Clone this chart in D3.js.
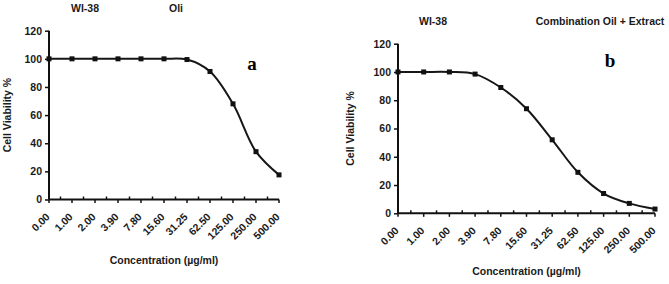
<!DOCTYPE html>
<meta charset="utf-8">
<html>
<head>
  <script src="https://d3js.org/d3.v7.min.js"></script>
  <style>
    body {
      margin: 0;
      background: #fff;
      font-family: "Liberation Sans", Arial, sans-serif;
    }
    text {
      fill: #1a1a1a;
      font-weight: bold;
    }
    .axis line, .axis path {
      stroke: #111;
    }
  </style>
</head>
<body>
  <script>
    // concentrations (ug/ml) on the x axis
    var concentrations = ["0.00", "1.00", "2.00", "3.90", "7.80", "15.60", "31.25", "62.50", "125.00", "250.00", "500.00"];
    // cell viability %
    var oilViability = [100, 100, 100, 100, 100, 100, 99.5, 91, 68, 34, 17.5];
    var comboViability = [100, 100, 100, 98.5, 89, 74, 52, 29, 14, 7, 3];
    var yTicks = [0, 20, 40, 60, 80, 100, 120];

    var svg = d3.select("body")
      .append("svg")
      .attr("width", 669)
      .attr("height", 284);

    var panels = [
      {
        values: oilViability, left: 49, top: 30.7, bottom: 199.5, width: 230,
        cell: "WI-38", cellX: 85, name: "Oli", nameX: 176, titleY: 12,
        letter: "a", letterX: 252, letterY: 70,
        yTitleX: 11, xTitleY: 264
      },
      {
        values: comboViability, left: 398, top: 43.7, bottom: 213.3, width: 257,
        cell: "WI-38", cellX: 433, name: "Combination Oil + Extract", nameX: 600, titleY: 25,
        letter: "b", letterX: 610, letterY: 67,
        yTitleX: 354, xTitleY: 275
      }
    ];

    panels.forEach(function (p) {
      var g = svg.append("g")
        .attr("transform", "translate(" + p.left + "," + p.top + ")");
      var h = p.bottom - p.top;

      var x = d3.scalePoint()
        .domain(concentrations)
        .range([0, p.width]);

      var y = d3.scaleLinear()
        .domain([0, 120])
        .range([h, 0]);

      // y axis
      var yAxis = g.append("g")
        .attr("class", "axis")
        .call(d3.axisLeft(y).tickValues(yTicks).tickSize(4).tickPadding(3));
      yAxis.select(".domain").attr("stroke-width", 2).attr("d", "M0,0V" + h);
      yAxis.selectAll("line").attr("stroke-width", 1.5);
      yAxis.selectAll("text").style("font-size", "10.5px");

      // x axis, ticks on the points go down, ticks in between go up
      var xAxis = g.append("g")
        .attr("class", "axis")
        .attr("transform", "translate(0," + h + ")");
      xAxis.append("line")
        .attr("x1", 0).attr("x2", p.width)
        .attr("stroke-width", 2);
      xAxis.selectAll(".tk")
        .data(concentrations)
        .enter().append("line")
        .attr("x1", function (d) { return x(d); })
        .attr("x2", function (d) { return x(d); })
        .attr("y1", 0).attr("y2", 3.5)
        .attr("stroke-width", 1.5);
      xAxis.selectAll(".mid")
        .data(concentrations.slice(1))
        .enter().append("line")
        .attr("x1", function (d, i) { return (x(d) + x(concentrations[i])) / 2; })
        .attr("x2", function (d, i) { return (x(d) + x(concentrations[i])) / 2; })
        .attr("y1", 0).attr("y2", -3)
        .attr("stroke-width", 1.5);
      xAxis.selectAll(".lbl")
        .data(concentrations)
        .enter().append("text")
        .attr("transform", function (d) {
          return "translate(" + (x(d) + 1.5) + ",18) rotate(-45)";
        })
        .attr("text-anchor", "end")
        .style("font-size", "10.5px")
        .text(function (d) { return d; });

      // the curve
      var line = d3.line()
        .x(function (d, i) { return x(concentrations[i]); })
        .y(function (d) { return y(d); })
        .curve(d3.curveCatmullRom.alpha(0.5));

      g.append("path")
        .datum(p.values)
        .attr("d", line)
        .attr("fill", "none")
        .attr("stroke", "#161616")
        .attr("stroke-width", 2);

      g.selectAll(".pt")
        .data(p.values)
        .enter().append("rect")
        .attr("x", function (d, i) { return x(concentrations[i]) - 2.5; })
        .attr("y", function (d) { return y(d) - 2.5; })
        .attr("width", 5)
        .attr("height", 5)
        .attr("fill", "#111");

      // titles
      svg.append("text")
        .attr("x", p.cellX).attr("y", p.titleY)
        .attr("text-anchor", "middle")
        .style("font-size", "10.5px")
        .text(p.cell);
      svg.append("text")
        .attr("x", p.nameX).attr("y", p.titleY)
        .attr("text-anchor", "middle")
        .style("font-size", "10.5px")
        .text(p.name);
      svg.append("text")
        .attr("x", p.letterX).attr("y", p.letterY)
        .attr("text-anchor", "middle")
        .style("font-family", "'Liberation Serif', 'DejaVu Serif', serif")
        .style("font-size", "19px")
        .style("fill", "#000")
        .text(p.letter);

      svg.append("text")
        .attr("transform", "translate(" + p.yTitleX + "," + ((p.top + p.bottom) / 2) + ") rotate(-90)")
        .attr("text-anchor", "middle")
        .style("font-size", "10.5px")
        .text("Cell Viability %");
      svg.append("text")
        .attr("x", p.left + p.width / 2).attr("y", p.xTitleY)
        .attr("text-anchor", "middle")
        .style("font-size", "10.5px")
        .text("Concentration (\u00b5g/ml)");
    });
  </script>
</body>
</html>
